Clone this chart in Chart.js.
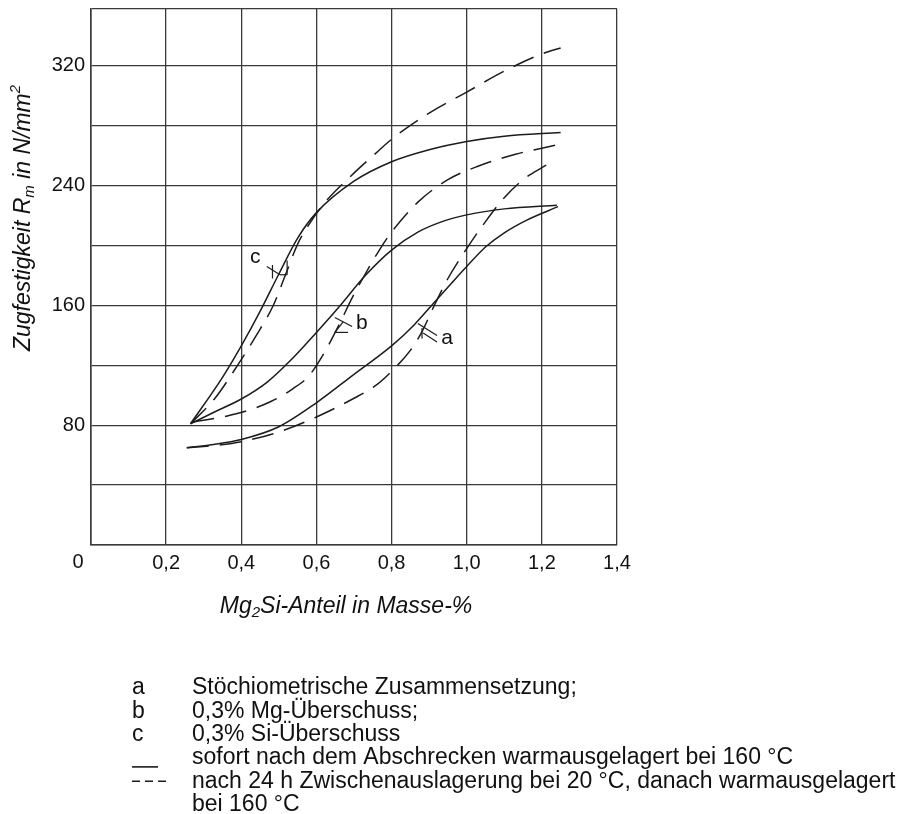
<!DOCTYPE html>
<html>
<head>
<meta charset="utf-8">
<script src="https://cdn.jsdelivr.net/npm/chart.js@4.4.1/dist/chart.umd.min.js"></script>
<style>
	html, body { margin: 0; padding: 0; background: #fff; }
	canvas { display: block; }
</style>
</head>
<body>
<canvas id="myChart" width="919" height="814"></canvas>
<script>
// axis ticks
const xTickValues = [0, 0.2, 0.4, 0.6, 0.8, 1.0, 1.2, 1.4]
const xTickLabels = ['0', '0,2', '0,4', '0,6', '0,8', '1,0', '1,2', '1,4']
const yTickValues = [0, 40, 80, 120, 160, 200, 240, 280, 320, 358]
const yTickLabels = [80, 160, 240, 320]

// curves: [Mg2Si-Anteil, Rm]
const aSolid = [[0.255, 65], [0.32, 67], [0.40, 70.5], [0.50, 79], [0.60, 95], [0.70, 114], [0.80, 133], [0.86, 147], [0.91, 161], [0.96, 175], [1.0, 186], [1.05, 199], [1.1, 208.5], [1.16, 217], [1.243, 226]]
const aDashed = [[0.255, 65], [0.33, 66.5], [0.40, 69], [0.50, 75.5], [0.60, 85.5], [0.70, 98], [0.76, 107], [0.80, 116], [0.85, 130], [0.88, 142], [0.91, 158], [0.95, 178], [1.0, 198], [1.05, 216], [1.10, 232], [1.15, 244], [1.2, 252], [1.235, 257]]
const bSolid = [[0.265, 81], [0.33, 89], [0.40, 97.5], [0.47, 109], [0.53, 123], [0.60, 142], [0.66, 159], [0.73, 180], [0.80, 197], [0.87, 209], [0.94, 216.5], [1.0, 220.5], [1.1, 224.5], [1.24, 227]]
const bDashed = [[0.27, 82], [0.36, 86], [0.42, 90], [0.48, 96], [0.535, 104], [0.58, 113], [0.62, 128], [0.66, 147], [0.695, 165], [0.73, 181], [0.77, 198], [0.80, 209], [0.87, 229], [0.95, 244], [1.03, 253], [1.13, 261], [1.2, 265], [1.254, 268]]
const cSolid = [[0.265, 81], [0.35, 112], [0.40, 133], [0.45, 156], [0.50, 181], [0.55, 205], [0.60, 222], [0.70, 243], [0.80, 256], [0.90, 264], [1.0, 269.5], [1.1, 273], [1.25, 275.5]]
const cDashed = [[0.265, 81], [0.33, 98], [0.39, 120], [0.44, 140], [0.485, 160], [0.52, 182], [0.55, 201], [0.58, 214], [0.62, 228], [0.694, 247], [0.764, 263], [0.80, 271], [0.90, 288.5], [1.0, 302.5], [1.1, 316.5], [1.2, 328], [1.25, 332]]

// curve labels with their leader strokes, in data units
const curveLabels = ['a', 'b', 'c']
const curveLabelAt = [[0.948, 138], [0.721, 148], [0.437, 192]]
const leaders = [
	[[0.870, 148], [0.921, 140]], [[0.884, 141.6], [0.921, 135.6]], [[0.881, 138], [0.881, 145]],
	[[0.649, 152], [0.695, 146]], [[0.649, 142], [0.684, 142]], [[0.649, 142], [0.671, 149]],
	[[0.468, 186], [0.503, 180.5]], [[0.503, 180.5], [0.522, 180.5]], [[0.522, 180.5], [0.522, 190]], [[0.483, 178], [0.483, 187]],
]

// legend below the chart
const legendKeys = ['a', 'b', 'c']
const legendTexts = [
	'Stöchiometrische Zusammensetzung;',
	'0,3% Mg-Überschuss;',
	'0,3% Si-Überschuss',
	'sofort nach dem Abschrecken warmausgelagert bei 160 °C',
	'nach 24 h Zwischenauslagerung bei 20 °C, danach warmausgelagert',
	'bei 160 °C',
]

const FONT = '"Liberation Sans", Arial, Helvetica, sans-serif'
const INK = '#1c1c1c'
const GRID = '#3a3a3a'

const toPoints = arr => arr.map(([x, y]) => ({ x, y }))

const curve = (label, arr, dashed) => ({
	label,
	data: toPoints(arr),
	borderColor: INK,
	borderWidth: 1.5,
	borderDash: dashed ? [22, 11] : [],
	pointRadius: 0,
	cubicInterpolationMode: 'monotone',
	fill: false,
})

// draws text pieces with sub/superscripts, centered at (cx, cy)
const drawRuns = (ctx, runs, cx, cy, big, small) => {
	const fontOf = kind => `italic ${kind ? small : big}px ${FONT}`
	let total = 0
	runs.forEach(([t, kind]) => {
		ctx.font = fontOf(kind)
		total += ctx.measureText(t).width
	})
	let x = cx - total / 2
	runs.forEach(([t, kind]) => {
		ctx.font = fontOf(kind)
		const dy = kind === 'sub' ? 6 : kind === 'sup' ? -8 : 0
		ctx.fillText(t, x, cy + dy)
		x += ctx.measureText(t).width
	})
}

const paperPlugin = {
	id: 'paper',
	afterDraw(chart) {
		const { ctx } = chart
		const { x, y } = chart.scales
		const px = v => x.getPixelForValue(v)
		const py = v => y.getPixelForValue(v)
		ctx.save()
		ctx.fillStyle = '#111'
		ctx.strokeStyle = INK
		ctx.textBaseline = 'middle'

		// shared origin label
		ctx.font = `20px ${FONT}`
		ctx.textAlign = 'center'
		ctx.fillText(xTickLabels[0], px(0) - 13, y.bottom + 17)

		// curve labels
		ctx.font = `21px ${FONT}`
		curveLabels.forEach((t, i) => {
			ctx.fillText(t, px(curveLabelAt[i][0]), py(curveLabelAt[i][1]))
		})
		ctx.lineWidth = 1.2
		leaders.forEach(([p, q]) => {
			ctx.beginPath()
			ctx.moveTo(px(p[0]), py(p[1]))
			ctx.lineTo(px(q[0]), py(q[1]))
			ctx.stroke()
		})

		// axis titles
		ctx.textAlign = 'left'
		drawRuns(ctx, [['Mg'], ['2', 'sub'], ['Si-Anteil in Masse-%']], 346, 607, 23, 15)
		ctx.save()
		ctx.translate(24, 218)
		ctx.rotate(-Math.PI / 2)
		drawRuns(ctx, [['Zugfestigkeit R'], ['m', 'sub'], [' in N/mm'], ['2', 'sup']], 0, 0, 23, 15)
		ctx.restore()

		// legend
		const rowY = i => 688 + i * 23.3
		ctx.font = `23px ${FONT}`
		legendKeys.forEach((k, i) => ctx.fillText(k, 132, rowY(i)))
		legendTexts.forEach((t, i) => ctx.fillText(t, 192, rowY(i)))
		ctx.lineWidth = 1.6
		ctx.beginPath()
		ctx.moveTo(132, rowY(3) + 9)
		ctx.lineTo(158, rowY(3) + 9)
		ctx.stroke()
		ctx.setLineDash([8, 5])
		ctx.beginPath()
		ctx.moveTo(132, rowY(4))
		ctx.lineTo(168, rowY(4))
		ctx.stroke()
		ctx.restore()
	},
}

const ctx = document.getElementById('myChart').getContext('2d')
const myChart = new Chart(ctx, {
	type: 'line',
	data: {
		datasets: [
			curve('a', aSolid, false),
			curve('a', aDashed, true),
			curve('b', bSolid, false),
			curve('b', bDashed, true),
			curve('c', cSolid, false),
			curve('c', cDashed, true),
		],
	},
	options: {
		responsive: false,
		animation: false,
		layout: {
			padding: { left: 0, right: 302, top: 9, bottom: 229 },
		},
		plugins: {
			legend: { display: false },
			tooltip: { enabled: false },
		},
		scales: {
			x: {
				type: 'linear',
				min: 0,
				max: 1.4,
				afterBuildTicks: s => {
					s.ticks = xTickValues.map(value => ({ value }))
				},
				afterFit: s => {
					s.height = 40
					s.paddingLeft = 0
					s.paddingRight = 0
				},
				grid: { color: GRID, lineWidth: 1.3, drawTicks: false },
				border: { color: GRID, width: 1.6 },
				ticks: {
					autoSkip: false,
					maxRotation: 0,
					padding: 6,
					color: '#111',
					font: { family: FONT, size: 20 },
					callback: (v, i) => (i === 0 ? '' : xTickLabels[i]),
				},
			},
			y: {
				type: 'linear',
				min: 0,
				max: 358,
				afterBuildTicks: s => {
					s.ticks = yTickValues.map(value => ({ value }))
				},
				afterFit: s => {
					s.width = 91
					s.paddingTop = 0
					s.paddingBottom = 0
				},
				grid: { color: GRID, lineWidth: 1.3, drawTicks: false },
				border: { color: GRID, width: 1.6 },
				ticks: {
					padding: 6,
					color: '#111',
					font: { family: FONT, size: 20 },
					callback: v => (yTickLabels.includes(v) ? String(v) : ''),
				},
			},
		},
	},
	plugins: [paperPlugin],
})
</script>
</body>
</html>
